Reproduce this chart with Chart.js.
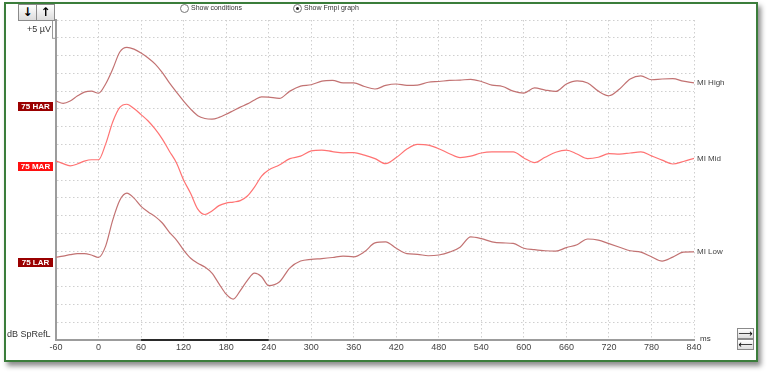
<!DOCTYPE html>
<html>
<head>
<meta charset="utf-8">
<script src="https://cdn.jsdelivr.net/npm/chart.js@4/dist/chart.umd.min.js"></script>
<style>
  html, body { margin:0; padding:0; background:#ffffff; }
  body { width:769px; height:374px; position:relative; overflow:hidden; font-family:"Liberation Sans", Arial, sans-serif; }
  #frame { position:absolute; left:4px; top:2px; width:750px; height:356px; border:2px solid #3b7d3b; background:#fff;
           box-shadow: 3px 4px 5px rgba(0,0,0,0.45); }
  #chart { position:absolute; left:0; top:0; z-index:2; }
  .ov { position:absolute; z-index:3; color:#333; white-space:nowrap; }
  .btn { position:absolute; z-index:3; box-sizing:border-box; border:1px solid #8a8a8a; background:linear-gradient(#ffffff,#dcdcdc);
         text-align:center; color:#000; font-family:"DejaVu Sans", sans-serif; font-weight:bold; }
  .radio { position:absolute; z-index:3; width:7px; height:7px; border:1px solid #777; border-radius:50%; background:#fff; }
  .radio.on::after { content:""; position:absolute; left:2px; top:2px; width:3px; height:3px; border-radius:50%; background:#222; }
</style>
</head>
<body>
<div id="frame"></div>
<canvas id="chart" width="769" height="374"></canvas>

<div class="btn" style="left:18px;top:4px;width:19px;height:17px;font-size:12px;line-height:15px;">↓</div>
<div class="btn" style="left:36px;top:4px;width:19px;height:17px;font-size:12px;line-height:15px;">↑</div>
<div class="ov" style="right:718px;top:24px;font-size:9px;">+5 µV</div>

<div class="radio" style="left:180px;top:4px;"></div>
<div class="ov" style="left:191px;top:4px;font-size:7px;">Show conditions</div>
<div class="radio on" style="left:293px;top:4px;"></div>
<div class="ov" style="left:304px;top:4px;font-size:7px;">Show Fmpi graph</div>

<div class="ov" style="left:7px;top:329px;font-size:9px;">dB SpRefL</div>
<div class="ov" style="left:700px;top:334px;font-size:8px;">ms</div>

<div class="btn" style="left:737px;top:328px;width:17px;height:11px;font-size:10px;line-height:9px;font-weight:normal;">⟶</div>
<div class="btn" style="left:737px;top:339px;width:17px;height:11px;font-size:10px;line-height:9px;font-weight:normal;">⟵</div>

<script>
// ---- data (time in ms, amplitude in µV relative to each trace's baseline) ----
const times = [-60,-50,-40,-30,-20,-10,0,10,20,30,40,50,60,70,80,90,100,110,120,130,140,150,160,170,180,190,200,210,220,230,240,
  255,270,285,300,315,330,345,360,375,390,405,420,435,450,465,480,495,510,525,540,555,570,585,600,615,630,645,660,675,690,705,720,735,750,765,780,795,810,825,840];

const miHigh = [0,-0.65,0,1.4,2.5,2.8,2.2,4.8,9.0,13.8,15.1,14.6,13.5,12.1,10.4,8.0,5.1,2.5,0,-2.25,-4.1,-4.9,-5.1,-4.6,-3.7,-2.7,-1.7,-0.8,0.3,1.2,1.1,
  0.76,2.8,4.2,4.6,5.6,5.8,5.1,5.1,4.1,3.4,4.4,4.8,4.4,4.5,5.3,5.5,5.8,5.9,6.1,5.5,4.5,4.1,2.8,2.25,3.7,3.1,2.7,4.8,5.7,5.1,2.8,1.5,3.4,6.2,7.1,6.0,6.2,6.3,5.6,5.1];

const miMid = [0,-0.8,-1.4,-0.9,-0.1,0.3,0.3,4.7,10.9,15.0,15.9,14.7,13.0,11.2,8.9,6.1,2.7,-0.6,-5.4,-9.2,-13.6,-15.1,-14.1,-12.6,-11.9,-11.6,-11.2,-9.9,-7.4,-4.3,-2.6,
  -1.2,0.6,1.3,2.8,3.0,2.6,2.25,2.3,1.6,0.6,-0.8,0.9,3.3,4.6,4.4,3.4,2.0,0.9,1.3,2.2,2.5,2.5,2.5,0.8,-0.5,1.0,2.4,3.0,1.9,0.6,1.0,2.0,1.9,2.2,2.5,1.4,0.2,-0.9,-0.2,0.7];

const miLow = [0,0.3,0.7,1.0,1.0,0.6,-0.1,3.1,10.4,16.0,18.0,16.6,14.3,12.7,11.4,9.6,7.0,4.8,2.0,-0.3,-1.7,-2.8,-4.5,-7.5,-10.4,-11.8,-9.4,-6.5,-4.5,-5.5,-8.0,
  -7.0,-3.0,-1.1,-0.6,-0.4,-0.1,0.3,0.1,1.5,4.0,4.3,2.5,1.0,0.8,0.4,0.6,1.4,2.8,5.7,5.2,4.3,4.0,3.85,2.5,2.1,1.8,1.7,2.7,3.5,5.1,4.8,3.8,2.8,1.8,1.4,0.1,-1.1,0,1.4,1.5];

const traceNames = ['MI High', 'MI Mid', 'MI Low'];
const stimLabels = ['75 HAR', '75 MAR', '75 LAR'];
const baselines = [67.2, 50.4, 23.3];          // display offset of each trace (µV)
const xTicks = [-60, 840, 60];                  // min, max, step (ms)
const analysisWindow = [60, 240];               // ms
const scaleBar = 5;                             // µV

const traceColors = ['#c27272', '#ff7373', '#c27272'];
const labelColors = ['#9a0000', '#ff1010', '#9a0000'];

const seriesData = [miHigh, miMid, miLow];

const datasets = seriesData.map((vals, i) => ({
  label: traceNames[i],
  data: times.map((t, k) => ({ x: t, y: vals[k] + baselines[i] })),
  borderColor: traceColors[i],
  borderWidth: 1.2,
  pointRadius: 0,
  cubicInterpolationMode: 'monotone',
  fill: false
}));

const annotate = {
  id: 'annotate',
  afterDraw(chart) {
    const { ctx, scales: { x, y }, chartArea } = chart;
    ctx.save();
    // analysis window bar on the x axis
    const yb = y.getPixelForValue(y.min);
    ctx.strokeStyle = '#2a2a2a';
    ctx.lineWidth = 2;
    ctx.beginPath();
    ctx.moveTo(x.getPixelForValue(analysisWindow[0]), yb);
    ctx.lineTo(x.getPixelForValue(analysisWindow[1]), yb);
    ctx.stroke();

    // scale bar (+5 µV)
    const sTop = y.getPixelForValue(y.max);
    const sBot = y.getPixelForValue(y.max - scaleBar);
    ctx.fillStyle = '#ffffff';
    ctx.strokeStyle = '#9a9a9a';
    ctx.lineWidth = 1;
    ctx.fillRect(chartArea.left - 3, sTop, 3, sBot - sTop);
    ctx.strokeRect(chartArea.left - 3.5, sTop + 0.5, 3, sBot - sTop);

    // stimulus labels on the left and trace names on the right
    baselines.forEach((b, i) => {
      const py = y.getPixelForValue(b);
      ctx.fillStyle = labelColors[i];
      ctx.fillRect(18, Math.round(py) + 1, 35, 9);
      ctx.fillStyle = '#ffffff';
      ctx.font = 'bold 8px "Liberation Sans", Arial, sans-serif';
      ctx.textAlign = 'center';
      ctx.textBaseline = 'middle';
      ctx.fillText(stimLabels[i], 35.5, Math.round(py) + 6);

      const vals = seriesData[i];
      const ey = y.getPixelForValue(vals[vals.length - 1] + b);
      ctx.fillStyle = '#444';
      ctx.font = '8px "Liberation Sans", Arial, sans-serif';
      ctx.textAlign = 'left';
      ctx.fillText(traceNames[i], chartArea.right + 3, ey);
    });
    ctx.restore();
  }
};

new Chart(document.getElementById('chart'), {
  type: 'line',
  data: { datasets },
  options: {
    responsive: false,
    animation: false,
    devicePixelRatio: 1,
    layout: { padding: { left: 56, top: 20, right: 75, bottom: 0 } },
    plugins: { legend: { display: false }, tooltip: { enabled: false } },
    scales: {
      x: {
        type: 'linear',
        min: xTicks[0], max: xTicks[1],
        afterFit: (s) => { s.height = 34; },
        ticks: { stepSize: xTicks[2], maxRotation: 0, autoSkip: false, padding: 2, color: '#444',
                 font: { size: 9, family: '"Liberation Sans", Arial, sans-serif' } },
        grid: { color: '#cfcfcf', drawTicks: false, lineWidth: 1 },
        border: { display: true, color: '#9c9c9c', width: 2, dash: [1.5, 2.5] }
      },
      y: {
        type: 'linear',
        min: 0, max: 90,
        afterFit: (s) => { s.width = 0; },
        ticks: { display: false, stepSize: 5 },
        grid: { color: '#cfcfcf', drawTicks: false, lineWidth: 1 },
        border: { display: true, color: '#9c9c9c', width: 2, dash: [1.5, 2.5] }
      }
    }
  },
  plugins: [annotate]
});
</script>
</body>
</html>
